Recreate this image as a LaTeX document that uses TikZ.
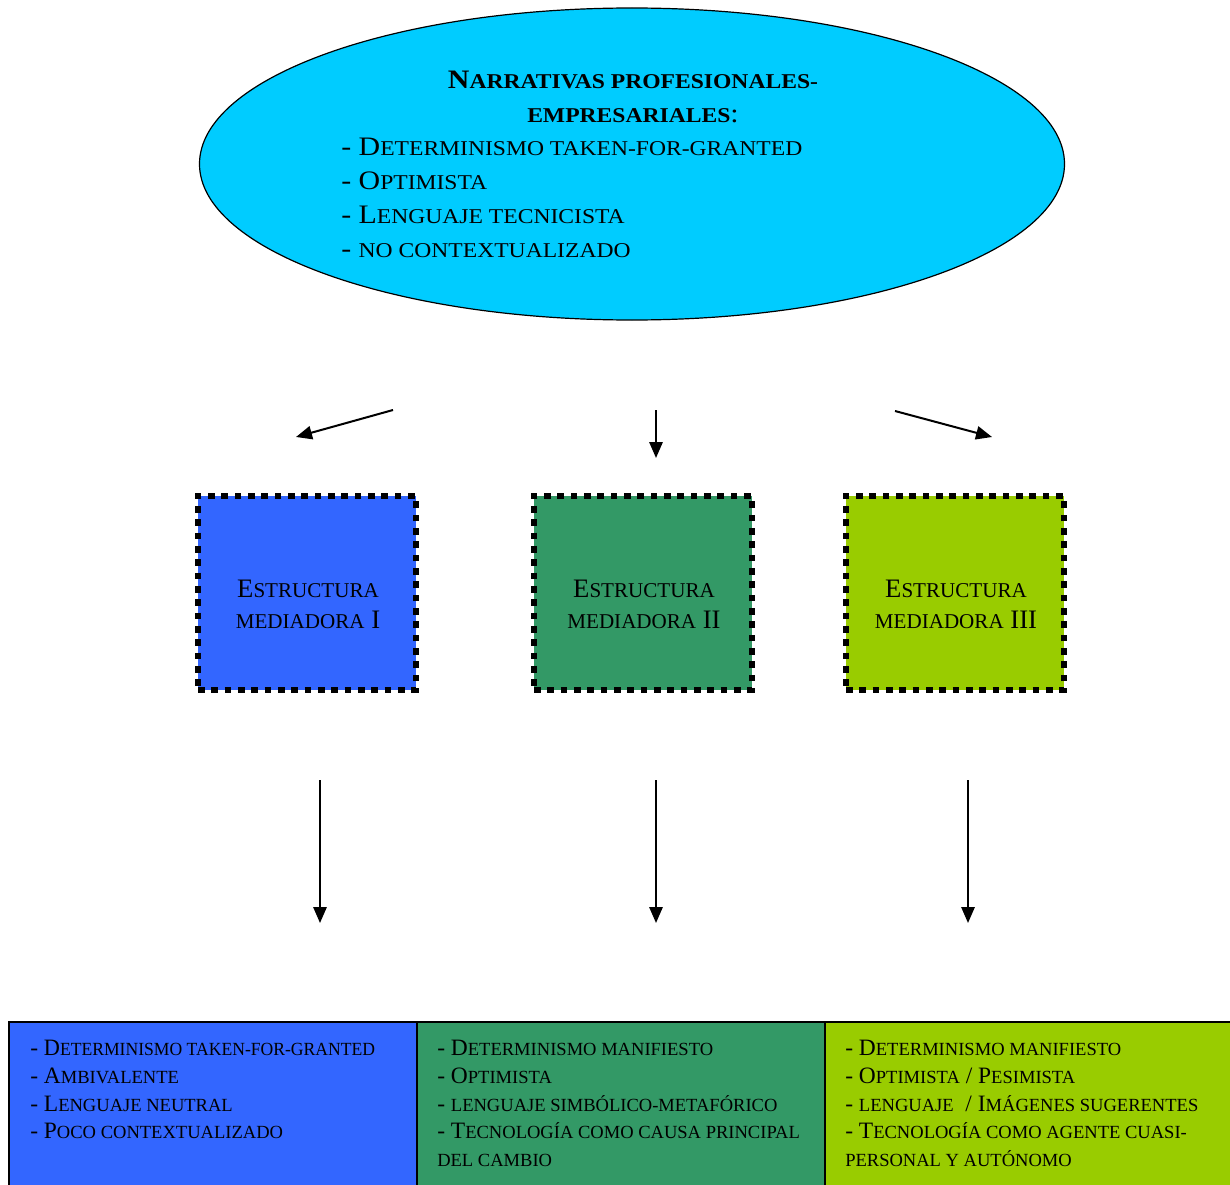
\documentclass[tikz,border=0pt]{standalone}
\usepackage{fontspec}
\usepackage{graphicx}
\setmainfont{Liberation Serif}
\newfontfamily\widefont[FakeStretch=1.12]{Liberation Serif}
\usetikzlibrary{arrows.meta,shapes.geometric}
\makeatletter
\newcommand\sm[1]{{\fontsize{\the\dimexpr 0.79\dimexpr\f@size pt\relax\relax}{\f@baselineskip}\selectfont #1}}
\makeatother
\definecolor{topcyan}{HTML}{00CCFF}
\definecolor{cblue}{HTML}{3366FF}
\definecolor{cgreen}{HTML}{339966}
\definecolor{clime}{HTML}{99CC00}
\begin{document}
\begin{tikzpicture}[x=0.75pt,y=-0.75pt,
  arr/.style={line width=1.5pt,-{Triangle[length=12pt,width=10pt]}},
  mbox/.style={draw=black,line width=4.5pt,dash pattern=on 5pt off 5pt,minimum width=163.5pt,minimum height=145.5pt,inner sep=0pt},
  mtext/.style={align=center,font=\fontsize{20}{23.25}\selectfont,inner sep=0pt},
  cell/.style={draw=black,line width=1.3pt,minimum width=306pt,minimum height=150pt,anchor=north west,inner sep=0pt},
  ctext/.style={align=left,anchor=north west,inner sep=0pt,font=\fontsize{17.6}{20.8}\selectfont},
  toptext/.style={inner sep=0pt,font=\widefont\fontsize{20}{25.5}\selectfont}]
\useasboundingbox (0,0) rectangle (1230,1184);
\clip (0,0) rectangle (1230,1184);
% top ellipse
\node (top) [ellipse,draw=black,line width=0.9pt,fill=topcyan,minimum width=648.75pt,minimum height=234pt,inner sep=0pt] at (632,164) {};
\node (title) [toptext,align=center,anchor=north] at (633,70.5) {\bfseries N\sm{ARRATIVAS PROFESIONALES-}\\\bfseries\sm{EMPRESARIALES}\mdseries:};
\node (toplist) [toptext,align=left,anchor=north west] at (341,138) {- D\sm{ETERMINISMO TAKEN-FOR-GRANTED}\\- O\sm{PTIMISTA}\\- L\sm{ENGUAJE TECNICISTA}\\- \sm{NO CONTEXTUALIZADO}};
% arrow coordinates
\coordinate (a1s) at (393,410); \coordinate (a1e) at (296,437);
\coordinate (a2s) at (656,410); \coordinate (a2e) at (656,458);
\coordinate (a3s) at (895,411); \coordinate (a3e) at (992,437);
\draw[arr] (a1s) -- (a1e);
\draw[arr] (a2s) -- (a2e);
\draw[arr] (a3s) -- (a3e);
% mediating structures
\node (m1) [mbox,fill=cblue] at (307,593) {};
\node (m2) [mbox,fill=cgreen] at (643,593) {};
\node (m3) [mbox,fill=clime] at (955,593) {};
\node (m1t) [mtext] at (308,604) {E\sm{STRUCTURA}\\\sm{MEDIADORA} I};
\node (m2t) [mtext] at (644,604) {E\sm{STRUCTURA}\\\sm{MEDIADORA} II};
\node (m3t) [mtext] at (956,604) {E\sm{STRUCTURA}\\\sm{MEDIADORA} III};
% long arrows
\coordinate (b1s) at (320,780); \coordinate (b1e) at (320,923);
\coordinate (b2s) at (656,780); \coordinate (b2e) at (656,923);
\coordinate (b3s) at (968,780); \coordinate (b3e) at (968,923);
\draw[arr] (b1s) -- (b1e);
\draw[arr] (b2s) -- (b2e);
\draw[arr] (b3s) -- (b3e);
% bottom table
\node (c1) [cell,fill=cblue] at (8,1021) {};
\node (c2) [cell,fill=cgreen] at (416,1021) {};
\node (c3) [cell,fill=clime] at (824,1021) {};
\node (c1t) [ctext] at (30,1040) {- \scalebox{0.95}[1]{D\sm{ETERMINISMO TAKEN-FOR-GRANTED}}\\- A\sm{MBIVALENTE}\\- L\sm{ENGUAJE NEUTRAL}\\- P\sm{OCO CONTEXTUALIZADO}};
\node (c2t) [ctext] at (437,1040) {- D\sm{ETERMINISMO MANIFIESTO}\\- O\sm{PTIMISTA}\\- \sm{LENGUAJE SIMBÓLICO-METAFÓRICO}\\- T\sm{ECNOLOGÍA COMO CAUSA PRINCIPAL}\\\sm{DEL CAMBIO}};
\node (c3t) [ctext] at (845,1040) {- D\sm{ETERMINISMO MANIFIESTO}\\- O\sm{PTIMISTA} / P\sm{ESIMISTA}\\- \sm{LENGUAJE}\ \ / I\sm{MÁGENES SUGERENTES}\\- T\sm{ECNOLOGÍA COMO AGENTE CUASI-}\\\sm{PERSONAL Y AUTÓNOMO}};
\end{tikzpicture}
\end{document}
